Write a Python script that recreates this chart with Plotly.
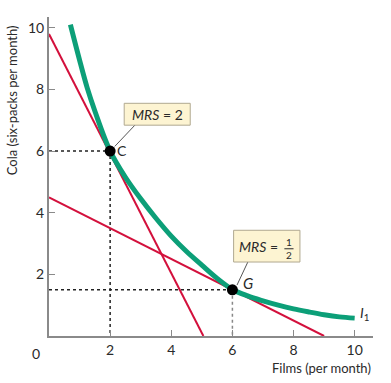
import plotly.graph_objects as go

# Indifference curve I1
curve_x = [0.7, 1.0, 1.25, 1.5, 2.0, 2.5, 3.0, 3.5, 4.0, 4.5, 5.0, 5.5, 6.0, 6.5, 7.0, 7.5, 8.0, 8.5, 9.0, 9.5, 10.0]
curve_y = [10.1, 8.95, 8.05, 7.3, 6.0, 5.15, 4.45, 3.82, 3.24, 2.74, 2.3, 1.87, 1.51, 1.3, 1.14, 1.0, 0.88, 0.78, 0.69, 0.62, 0.58]

# Tangent lines
line_c_x = [0, 5.05]
line_c_y = [9.8, 0]
line_g_x = [0, 9.0]
line_g_y = [4.5, 0]

# Points
pt_names = ["C", "G"]
pt_x = [2, 6]
pt_y = [6, 1.5]

tick_vals = [2, 4, 6, 8, 10]
tick_text = ["2", "4", "6", "8", "10"]

RED = "#d3103c"
GREEN = "#0c9f78"
GRAY = "#8a8a8a"
TXT = "#2a2a2a"
FONT = "Lato"

fig = go.Figure()

# dotted guide lines
fig.add_trace(go.Scatter(x=[0, pt_x[0], pt_x[0]], y=[pt_y[0], pt_y[0], 0], mode="lines",
                         line=dict(color="#222", width=1.5, dash="dot"), hoverinfo="skip"))
fig.add_trace(go.Scatter(x=[0, pt_x[1]], y=[pt_y[1], pt_y[1]], mode="lines",
                         line=dict(color="#222", width=1.5, dash="dot"), hoverinfo="skip"))
fig.add_trace(go.Scatter(x=[pt_x[1], pt_x[1]], y=[pt_y[1], 0], mode="lines",
                         line=dict(color="#888", width=1.5, dash="dot"), hoverinfo="skip"))

fig.add_trace(go.Scatter(x=line_c_x, y=line_c_y, mode="lines", line=dict(color=RED, width=2)))
fig.add_trace(go.Scatter(x=line_g_x, y=line_g_y, mode="lines", line=dict(color=RED, width=2)))
fig.add_trace(go.Scatter(x=curve_x, y=curve_y, mode="lines",
                         line=dict(color=GREEN, width=5, shape="spline", smoothing=1.0)))
fig.add_trace(go.Scatter(x=pt_x, y=pt_y, mode="markers", marker=dict(color="black", size=11)))

ann = []
# point labels
ann.append(dict(x=pt_x[0], y=pt_y[0], text="C", showarrow=False, xshift=12, yshift=1,
                font=dict(family=FONT, size=14, color=TXT), xanchor="center"))
ann.append(dict(x=pt_x[1], y=pt_y[1], text="<i>G</i>", showarrow=False, xshift=16, yshift=7,
                font=dict(family=FONT, size=15, color=TXT), xanchor="center"))
ann.append(dict(x=10, y=0.58, text="<i>I</i><sub>1</sub>", showarrow=False, xshift=10, yshift=5,
                font=dict(family=FONT, size=14, color=TXT), xanchor="center"))

# MRS = 2 box text
ann.append(dict(x=3.54, y=7.19, text="<i>MRS</i> = 2", showarrow=False,
                font=dict(family=FONT, size=14, color=TXT), xanchor="center", yanchor="middle"))
# MRS = 1/2 box text
ann.append(dict(x=6.84, y=2.89, text="<i>MRS</i> =", showarrow=False,
                font=dict(family=FONT, size=14, color=TXT), xanchor="center", yanchor="middle"))
ann.append(dict(x=7.85, y=3.05, text="1", showarrow=False,
                font=dict(family=FONT, size=10, color=TXT), xanchor="center", yanchor="middle"))
ann.append(dict(x=7.85, y=2.62, text="2", showarrow=False,
                font=dict(family=FONT, size=10, color=TXT), xanchor="center", yanchor="middle"))

# axis titles and origin
ann.append(dict(x=0, y=0, text="0", showarrow=False, xshift=-13, yshift=-17,
                font=dict(family=FONT, size=14, color=TXT)))
ann.append(dict(x=0, y=7.65, text="Cola (six-packs per month)", showarrow=False, xshift=-37,
                textangle=-90, font=dict(family=FONT, size=13, color=TXT)))
ann.append(dict(x=10.6, y=0, text="Films (per month)", showarrow=False, xanchor="right", yshift=-32,
                font=dict(family=FONT, size=13, color=TXT)))

shapes = [
    dict(type="rect", x0=2.46, x1=4.62, y0=6.84, y1=7.55,
         xref="x", yref="y", fillcolor="#fdf4d2", line=dict(color="#b0a890", width=1), layer="above"),
    dict(type="line", x0=2.8, y0=6.83, x1=2.15, y1=6.15, line=dict(color="#555", width=1)),
    dict(type="rect", x0=6.04, x1=8.21, y0=2.40, y1=3.43,
         xref="x", yref="y", fillcolor="#fdf4d2", line=dict(color="#b0a890", width=1), layer="above"),
    dict(type="line", x0=7.70, x1=8.00, y0=2.83, y1=2.83, line=dict(color=TXT, width=1)),
    dict(type="line", x0=6.5, y0=2.39, x1=6.15, y1=1.65, line=dict(color="#555", width=1)),
]

fig.update_layout(
    width=391, height=383,
    margin=dict(l=49, r=18, t=17, b=47),
    paper_bgcolor="white", plot_bgcolor="white",
    showlegend=False,
    annotations=ann,
    shapes=shapes,
    xaxis=dict(range=[0, 10.6], showgrid=False, zeroline=False, showline=True, linecolor=GRAY, linewidth=2,
               ticks="inside", ticklen=6, tickcolor=GRAY, tickwidth=1,
               tickvals=tick_vals, ticktext=tick_text,
               tickfont=dict(family=FONT, size=14, color=TXT)),
    yaxis=dict(range=[0, 10.35], showgrid=False, zeroline=False, showline=True, linecolor=GRAY, linewidth=2,
               ticks="inside", ticklen=6, tickcolor=GRAY, tickwidth=1,
               tickvals=tick_vals, ticktext=tick_text,
               tickfont=dict(family=FONT, size=14, color=TXT)),
)

fig.write_html("out.html", config={"displayModeBar": False},
               post_script="document.body.style.margin='0';document.body.style.padding='0';")
